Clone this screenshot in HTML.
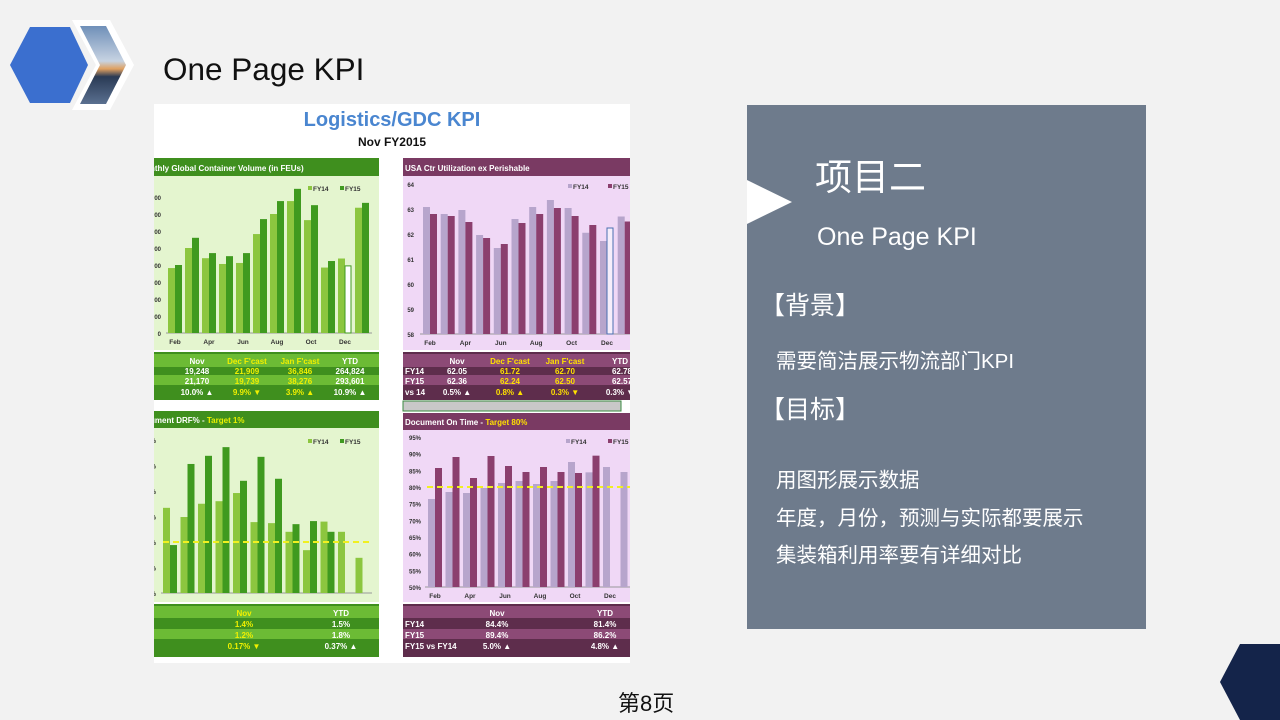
<!DOCTYPE html>
<html><head><meta charset="utf-8">
<style>
body{margin:0;width:1280px;height:720px;background:#f2f2f2;position:relative;overflow:hidden;font-family:"Liberation Sans","Noto Sans CJK SC",sans-serif}
.abs{position:absolute}
.rp{color:#fff;white-space:nowrap}
</style></head>
<body>
<svg class="abs" style="left:0;top:0" width="140" height="120">
<defs><linearGradient id="sky" x1="0" y1="0" x2="0" y2="1"><stop offset="0" stop-color="#6f8fb8"/><stop offset="0.45" stop-color="#c7d3e2"/><stop offset="0.55" stop-color="#e0a060"/><stop offset="0.65" stop-color="#2a3a55"/><stop offset="1" stop-color="#5a7090"/></linearGradient></defs>
<polygon points="10,65 30,27 70,27 88,65 70,103 30,103" fill="#3b6fcf"/>
<polygon points="72,20 110,20 134,65 110,110 72,110 96,65" fill="#fff"/>
<polygon points="80,26 106,26 126,65 106,104 80,104 100,65" fill="url(#sky)"/>
</svg>
<div class="abs" style="left:163px;top:51px;font-size:31.5px;color:#111">One Page KPI</div>

<svg class="abs" style="left:154px;top:104px" width="476" height="559" viewBox="154 104 476 559" id="dash">
<rect x="154" y="104" width="476" height="559" fill="#fff"/>
<text x="392" y="126" text-anchor="middle" font-size="20" font-weight="bold" fill="#4a86d0">Logistics/GDC KPI</text>
<text x="392" y="146" text-anchor="middle" font-size="12" font-weight="bold" fill="#111">Nov FY2015</text>
<rect x="154" y="158" width="225" height="18" fill="#3f8f1e"/>
<text x="150" y="171" font-size="8" font-weight="bold" fill="#fff">nthly Global Container Volume (in FEUs)</text>
<rect x="154" y="176" width="225" height="174" fill="#e4f5cf"/>
<rect x="154" y="352" width="225" height="48" fill="#3f8f1e"/>
<rect x="154" y="354" width="225" height="13" fill="#6cbb35"/>
<rect x="154" y="375" width="225" height="10" fill="#6cbb35"/>
<rect x="403" y="158" width="227" height="18" fill="#7a3a63"/>
<text x="405" y="171" font-size="8" font-weight="bold" fill="#fff">USA Ctr Utilization ex Perishable</text>
<rect x="403" y="176" width="227" height="174" fill="#f0d8f6"/>
<rect x="403" y="352" width="227" height="48" fill="#5e2d4c"/>
<rect x="403" y="354" width="227" height="13" fill="#8c4a76"/>
<rect x="403" y="375" width="227" height="10" fill="#8c4a76"/>
<rect x="403" y="401" width="218" height="10" fill="#c8c8c8" stroke="#3a8a40" stroke-width="1"/>
<rect x="154" y="411" width="225" height="17" fill="#3f8f1e"/>
<text x="150" y="423" font-size="8" font-weight="bold" fill="#fff">ument DRF% - <tspan fill="#e8f000">Target 1%</tspan></text>
<rect x="154" y="428" width="225" height="174" fill="#e4f5cf"/>
<rect x="154" y="604" width="225" height="53" fill="#3f8f1e"/>
<rect x="154" y="606" width="225" height="12" fill="#6cbb35"/>
<rect x="154" y="629" width="225" height="10" fill="#6cbb35"/>
<rect x="403" y="413" width="227" height="17" fill="#7a3a63"/>
<text x="405" y="425" font-size="8" font-weight="bold" fill="#fff">Document  On Time - <tspan fill="#ffe000">Target 80%</tspan></text>
<rect x="403" y="430" width="227" height="172" fill="#f0d8f6"/>
<rect x="403" y="604" width="227" height="53" fill="#5e2d4c"/>
<rect x="403" y="606" width="227" height="12" fill="#8c4a76"/>
<rect x="403" y="629" width="227" height="10" fill="#8c4a76"/>
<g id="marks"></g>
<g font-size="8" font-weight="bold" text-anchor="middle" fill="#fff">
<text x="197" y="364">Nov</text>
<text x="247" y="364" fill="#f0f000">Dec F'cast</text>
<text x="300" y="364" fill="#f0f000">Jan F'cast</text>
<text x="350" y="364">YTD</text>
<text x="197" y="374">19,248</text><text x="247" y="374" fill="#f0f000">21,909</text><text x="300" y="374" fill="#f0f000">36,846</text><text x="350" y="374">264,824</text>
<text x="197" y="384">21,170</text><text x="247" y="384" fill="#f0f000">19,739</text><text x="300" y="384" fill="#f0f000">38,276</text><text x="350" y="384">293,601</text>
<text x="197" y="395">10.0% ▲</text><text x="247" y="395" fill="#f0f000">9.9% ▼</text><text x="300" y="395" fill="#f0f000">3.9% ▲</text><text x="350" y="395">10.9% ▲</text>

<text x="457" y="364">Nov</text><text x="510" y="364" fill="#ffe000">Dec F'cast</text><text x="565" y="364" fill="#ffe000">Jan F'cast</text><text x="620" y="364">YTD</text>
<text x="457" y="374">62.05</text><text x="510" y="374" fill="#ffe000">61.72</text><text x="565" y="374" fill="#ffe000">62.70</text><text x="622" y="374">62.78</text>
<text x="457" y="384">62.36</text><text x="510" y="384" fill="#ffe000">62.24</text><text x="565" y="384" fill="#ffe000">62.50</text><text x="622" y="384">62.57</text>
<text x="457" y="395">0.5% ▲</text><text x="510" y="395" fill="#ffe000">0.8% ▲</text><text x="565" y="395" fill="#ffe000">0.3% ▼</text><text x="620" y="395">0.3% ▼</text>

<text x="244" y="616" fill="#f0f000">Nov</text><text x="341" y="616">YTD</text>
<text x="244" y="627" fill="#f0f000">1.4%</text><text x="341" y="627">1.5%</text>
<text x="244" y="638" fill="#f0f000">1.2%</text><text x="341" y="638">1.8%</text>
<text x="244" y="649" fill="#f0f000">0.17% ▼</text><text x="341" y="649">0.37% ▲</text>

<text x="497" y="616">Nov</text><text x="605" y="616">YTD</text>
<text x="497" y="627">84.4%</text><text x="605" y="627">81.4%</text>
<text x="497" y="638">89.4%</text><text x="605" y="638">86.2%</text>
<text x="497" y="649">5.0% ▲</text><text x="605" y="649">4.8% ▲</text>
</g>
<g font-size="8" font-weight="bold" fill="#fff">
<text x="405" y="374">FY14</text><text x="405" y="384">FY15</text><text x="405" y="395">vs 14</text>
<text x="405" y="627">FY14</text><text x="405" y="638">FY15</text><text x="405" y="649">FY15 vs FY14</text>
</g>
</svg>

<div class="abs" style="left:747px;top:105px;width:399px;height:524px;background:#6e7b8c"></div>
<svg class="abs" style="left:747px;top:180px" width="46" height="44"><polygon points="0,0 45,22 0,44" fill="#fff"/></svg>
<div class="abs rp" style="left:815px;top:147px;font-size:37px">项目二</div>
<div class="abs rp" style="left:817px;top:223px;font-size:25px">One Page KPI</div>
<div class="abs rp" style="left:760px;top:286px;font-size:25px">【背景】</div>
<div class="abs rp" style="left:776px;top:344px;font-size:20.5px">需要简洁展示物流部门KPI</div>
<div class="abs rp" style="left:760px;top:390px;font-size:25px">【目标】</div>
<div class="abs rp" style="left:776px;top:463px;font-size:20.5px">用图形展示数据</div>
<div class="abs rp" style="left:776px;top:501px;font-size:20.5px">年度，月份，预测与实际都要展示</div>
<div class="abs rp" style="left:776px;top:538px;font-size:20.5px">集装箱利用率要有详细对比</div>
<div class="abs" style="left:618px;top:686px;font-size:22px;color:#111">第8页</div>
<svg class="abs" style="left:1220px;top:644px" width="60" height="76"><polygon points="0,38 20,0 60,0 60,76 20,76" fill="#14244a"/></svg>

<script>
const months=['Feb','Mar','Apr','May','Jun','Jul','Aug','Sep','Oct','Nov','Dec','Jan'];
const vol14=[19100,25000,22000,20300,20600,29100,35000,38800,33200,19248,21909,36846];
const vol15=[20000,28000,23500,22600,23500,33500,38800,42400,37600,21170,19739,38276];
const volTicks=['0','5,000','10,000','15,000','20,000','25,000','30,000','35,000','40,000'];
const util14=[63.08,62.8,62.96,61.96,61.44,62.6,63.08,63.36,63.04,62.05,61.72,62.7];
const util15=[62.8,62.72,62.48,61.84,61.6,62.44,62.8,63.04,62.72,62.36,62.24,62.5];
const utilTicks=[58,59,60,61,62,63,64];
const drf14=[1.67,1.49,1.75,1.80,1.96,1.39,1.37,1.20,0.84,1.4,1.20,0.69];
const drf15=[0.94,2.53,2.69,2.86,2.20,2.67,2.24,1.35,1.41,1.2];
const drfTicks=['0.0%','0.5%','1.0%','1.5%','2.0%','2.5%','3.0%'];
const drfTarget=1.0;
const ot14=[76.4,78.5,78.2,79.7,81.2,81.8,80.9,81.8,87.5,84.4,86,84.5];
const ot15=[85.7,89,82.7,89.3,86.3,84.5,86,84.5,84.2,89.4];
const otTicks=[50,55,60,65,70,75,80,85,90,95];
const otTarget=80;

const NS='http://www.w3.org/2000/svg';
const g=document.getElementById('marks');
function mk(tag,attrs,txt){const e=document.createElementNS(NS,tag);for(const k in attrs)e.setAttribute(k,attrs[k]);if(txt!==undefined)e.textContent=txt;g.appendChild(e);return e;}

function chart(c){
  const y=c.y;
  c.ticks.forEach((t,i)=>{const v=c.tickVals[i];
    const e=mk('text',{x:c.tx,y:y(v)+3,'font-size':6,'font-weight':'bold','text-anchor':'end',fill:'#333'},c.fmt(t));
    
    
  });
  mk('line',{x1:c.ax1,x2:c.ax2,y1:c.base,y2:c.base,stroke:'#999','stroke-width':1});
  c.s1.forEach((v,i)=>{
    const r=mk('rect',{x:c.x0+i*c.step,y:y(v),width:c.bw,height:c.base-y(v),fill:c.c1});
    
    
  });
  c.s2.forEach((v,i)=>{
    const out=c.outline===i;
    const r=mk('rect',{x:c.x0+i*c.step+c.bw,y:y(v),width:c.bw-(out?1:0),height:c.base-y(v),fill:out?c.ofill:c.c2,stroke:out?c.ostroke:'none','stroke-width':1});
    
    
  });
  if(c.labels) months.forEach((m,i)=>{ if(i%2===0){
    const e=mk('text',{x:c.x0+i*c.step+c.bw,y:c.base+11,'font-size':6.5,'font-weight':'bold','text-anchor':'middle',fill:'#333'},m);
    
    
  }});
  if(c.target!==undefined){
    const l=mk('line',{x1:c.ax1+2,x2:c.ax2,y1:y(c.target),y2:y(c.target),stroke:'#f0f020','stroke-width':2,'stroke-dasharray':'6,4'});
    
    
  }
  [['FY14',c.c1,c.lx1],['FY15',c.c2,c.lx2]].forEach(([n,col,lx])=>{
    mk('rect',{x:lx,y:c.ly-5,width:4,height:4,fill:col});
    const e=mk('text',{x:lx+5,y:c.ly,'font-size':6.5,'font-weight':'bold',fill:'#333'},n);
    
    
  });
}
chart({s1:vol14,s2:vol15,y:v=>333-v/5000*17,base:333,x0:168,step:17,bw:7,c1:'#8cc63f',c2:'#3f9a1f',
  outline:10,ofill:'#fff',ostroke:'#3f9a1f',ticks:volTicks,tickVals:volTicks.map((t,i)=>i*5000),fmt:t=>t,tx:161,ax1:166,ax2:372,labels:true,lx1:308,lx2:340,ly:191});
chart({s1:util14,s2:util15,y:v=>334-(v-58)*25,base:334,x0:423,step:17.7,bw:7,c1:'#b7a5cc',c2:'#8b3f6e',
  outline:10,ofill:'#f6eefb',ostroke:'#4a6fb0',ticks:utilTicks,tickVals:utilTicks,fmt:t=>String(t),tx:414,ax1:420,ax2:630,labels:true,lx1:568,lx2:608,ly:189});
chart({s1:drf14,s2:drf15,y:v=>593-v*51,base:593,x0:163,step:17.5,bw:7,c1:'#8cc63f',c2:'#3f9a1f',
  ticks:drfTicks,tickVals:drfTicks.map((t,i)=>i*0.5),fmt:t=>t,tx:156,ax1:161,ax2:372,labels:false,target:drfTarget,lx1:308,lx2:340,ly:444});
chart({s1:ot14,s2:ot15,y:v=>587-(v-50)*10/3,base:587,x0:428,step:17.5,bw:7,c1:'#b7a5cc',c2:'#8b3f6e',
  ticks:otTicks,tickVals:otTicks,fmt:t=>t+'%',tx:421,ax1:425,ax2:630,labels:true,target:otTarget,lx1:566,lx2:608,ly:444});
</script>
</body></html>
